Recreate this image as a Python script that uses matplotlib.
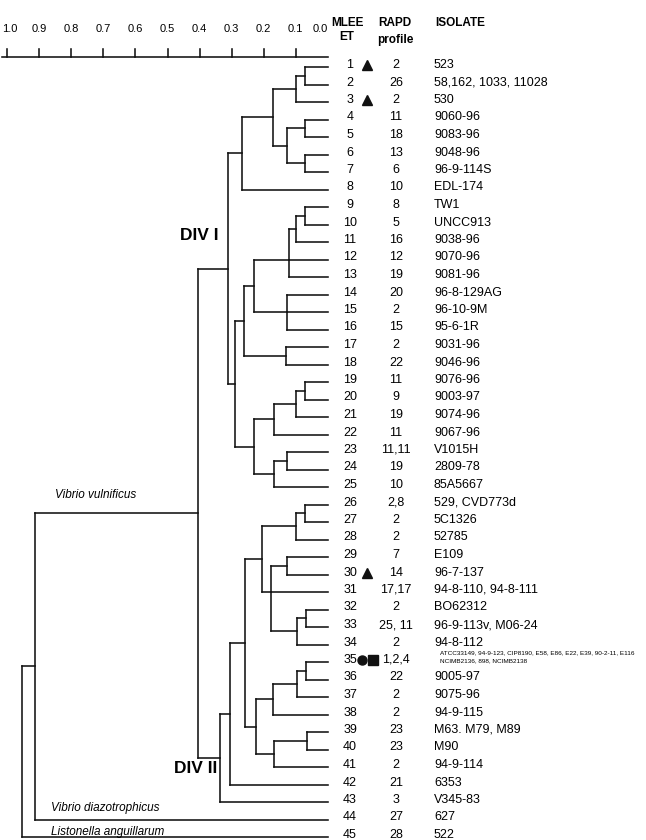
import numpy as np
import matplotlib
matplotlib.use("Agg")
import matplotlib.pyplot as plt
from matplotlib import transforms

plt.rcParams["font.family"] = ["Liberation Sans", "DejaVu Sans"]

# leaf rows (MLEE electrophoretic types), top to bottom
et = list(range(1, 46))
rapd = ["2", "26", "2", "11", "18", "13", "6", "10", "8", "5", "16", "12", "19",
        "20", "2", "15", "2", "22", "11", "9", "19", "11", "11,11", "19", "10",
        "2,8", "2", "2", "7", "14", "17,17", "2", "25, 11", "2", "1,2,4", "22",
        "2", "2", "23", "23", "2", "21", "3", "27", "28"]
isolates = ["523", "58,162, 1033, 11028", "530", "9060-96", "9083-96", "9048-96",
            "96-9-114S", "EDL-174", "TW1", "UNCC913", "9038-96", "9070-96",
            "9081-96", "96-8-129AG", "96-10-9M", "95-6-1R", "9031-96", "9046-96",
            "9076-96", "9003-97", "9074-96", "9067-96", "V1015H", "2809-78",
            "85A5667", "529, CVD773d", "5C1326", "52785", "E109", "96-7-137",
            "94-8-110, 94-8-111", "BO62312", "96-9-113v, M06-24", "94-8-112", "",
            "9005-97", "9075-96", "94-9-115", "M63. M79, M89", "M90", "94-9-114",
            "6353", "V345-83", "627", "522"]
et35_isolates = ("ATCC33149, 94-9-123, CIP8190, E58, E86, E22, E39, 90-2-11, E116\n"
                 "NCIMB2136, 898, NCIMB2138")
markers = {1: ["^"], 3: ["^"], 30: ["^"], 35: ["o", "s"]}

# merges: (name, children, genetic distance)
merges = [
    ("m1", [1, 2], 0.07), ("m2", ["m1", 3], 0.10), ("m3", [4, 5], 0.07),
    ("m4", [6, 7], 0.07), ("m5", ["m3", "m4"], 0.128), ("m6", ["m2", "m5"], 0.172),
    ("m7", ["m6", 8], 0.268), ("m8", [9, 10], 0.07), ("m9", ["m8", 11], 0.10),
    ("m10", ["m9", 12, 13], 0.12), ("m11", [14, 15, 16], 0.128),
    ("m12", ["m10", "m11"], 0.229), ("m13", [17, 18], 0.13),
    ("m14", ["m12", "m13"], 0.26), ("m15", [19, 20], 0.07), ("m16", ["m15", 21], 0.10),
    ("m17", ["m16", 22], 0.167), ("m18", [23, 24], 0.128), ("m19", ["m18", 25], 0.167),
    ("m20", ["m17", "m19"], 0.229), ("m21", ["m14", "m20"], 0.289),
    ("m22", ["m7", "m21"], 0.31),
    ("m23", [26, 27], 0.07), ("m24", ["m23", 28], 0.10), ("m25", [29, 30], 0.128),
    ("m26", [32, 33], 0.068), ("m27", ["m26", 34], 0.097),
    ("m28", ["m25", 31, "m27"], 0.177), ("m29", ["m24", "m28"], 0.206),
    ("m30", [35, 36], 0.068), ("m31", ["m30", 37], 0.097), ("m32", ["m31", 38], 0.17),
    ("m33", [39, 40], 0.066), ("m34", ["m33", 41], 0.167),
    ("m35", ["m32", "m34"], 0.224), ("m36", ["m29", "m35"], 0.258),
    ("m37", ["m36", 42], 0.305), ("m38", ["m37", 43], 0.336),
    ("m39", ["m22", "m38"], 0.405), ("m40", ["m39", 44], 0.915),
    ("m41", ["m40", 45], 0.955),
]
scale_ticks = [1.0, 0.9, 0.8, 0.7, 0.6, 0.5, 0.4, 0.3, 0.2, 0.1, 0.0]

W, H = 646, 840
fig = plt.figure(figsize=(W / 100, H / 100), dpi=100)
ax = fig.add_axes([7.3 / W, 3 / H, 320.4 / W, 770 / H])
ax.set_xlim(1.0, 0.0)
ax.set_ylim(45, 1)
ax.axis("off")

lc = "#111111"
lw = 1.15
pos = {i: float(i) for i in et}
height = {i: 0.0 for i in et}
for name, kids, h in merges:
    ys = [pos[k] for k in kids]
    ax.plot([h, h], [min(ys), max(ys)], color=lc, lw=lw, clip_on=False,
            solid_capstyle="projecting")
    for k in kids:
        ax.plot([h, height[k]], [pos[k], pos[k]], color=lc, lw=lw, clip_on=False,
                solid_capstyle="projecting")
    pos[name] = float(np.median(ys))
    height[name] = h


def off(px):
    return transforms.ScaledTranslation(0, px / 100, fig.dpi_scale_trans)


# scale bar
sc = transforms.blended_transform_factory(ax.transData, fig.transFigure)
ax.plot([1.017, 0.0], [1 - 57 / H, 1 - 57 / H], color=lc, lw=lw, transform=sc,
        clip_on=False)
for t in scale_ticks:
    if t > 0:
        ax.plot([t, t], [1 - 49 / H, 1 - 57 / H], color=lc, lw=lw, transform=sc,
                clip_on=False)
    if t == 1.0:
        ax.text(1.015, 1 - 29 / H, f"{t:.1f}", transform=sc, ha="left",
                va="center", fontsize=8)
    else:
        ax.text(t, 1 - 29 / H, f"{t:.1f}", transform=sc,
                ha="center" if t > 0 else "right", va="center", fontsize=8)

# columns
tr = transforms.blended_transform_factory(fig.transFigure, ax.transData)
hdr = dict(fontsize=8.5, fontweight="bold", va="center")
fig.text(347 / W, 1 - 22.5 / H, "MLEE", ha="center", **hdr)
fig.text(347 / W, 1 - 36.5 / H, "ET", ha="center", **hdr)
fig.text(395 / W, 1 - 22.5 / H, "RAPD", ha="center", **hdr)
fig.text(395 / W, 1 - 39.5 / H, "profile", ha="center", **hdr)
fig.text(435 / W, 1 - 22.5 / H, "ISOLATE", ha="left", **hdr)

for i, r, iso in zip(et, rapd, isolates):
    ax.text(350 / W, i, str(i), transform=tr + off(2), ha="center", va="center",
            fontsize=9)
    ax.text(396 / W, i, r, transform=tr + off(2), ha="center", va="center", fontsize=9)
    if iso:
        ax.text(434 / W, i, iso, transform=tr + off(2), ha="left", va="center",
                fontsize=9)
    if i in markers:
        mk = markers[i]
        xs = [366.5] if len(mk) == 1 else [362, 373]
        for m, xp in zip(mk, xs):
            ax.plot([xp / W], [i - 0.1], marker=m, color=lc,
                    ms=7 if m == "^" else 6.5, transform=tr, clip_on=False, ls="none")
ax.text(440 / W, 35, et35_isolates, transform=tr + off(-1), ha="left", va="bottom",
        fontsize=4.6, linespacing=1.75)

# group labels
ax.text(0.342, 10.6, "DIV I", ha="right", va="center", fontsize=12.5,
        fontweight="bold")
ax.text(0.345, pos["m38"], "DIV II", ha="right", va="center", fontsize=12.5,
        fontweight="bold", transform=ax.transData + off(-11))
ax.text(0.85, pos["m39"], "Vibrio vulnificus", style="italic", fontsize=8.5,
        ha="left", va="baseline", transform=ax.transData + off(15))
ax.text(0.865, pos[44], "Vibrio diazotrophicus", style="italic", fontsize=8.5,
        ha="left", va="baseline", transform=ax.transData + off(8))
ax.text(0.865, pos[45], "Listonella anguillarum", style="italic", fontsize=8.5,
        ha="left", va="baseline", transform=ax.transData + off(2))

fig.savefig("out.png", dpi=100)
